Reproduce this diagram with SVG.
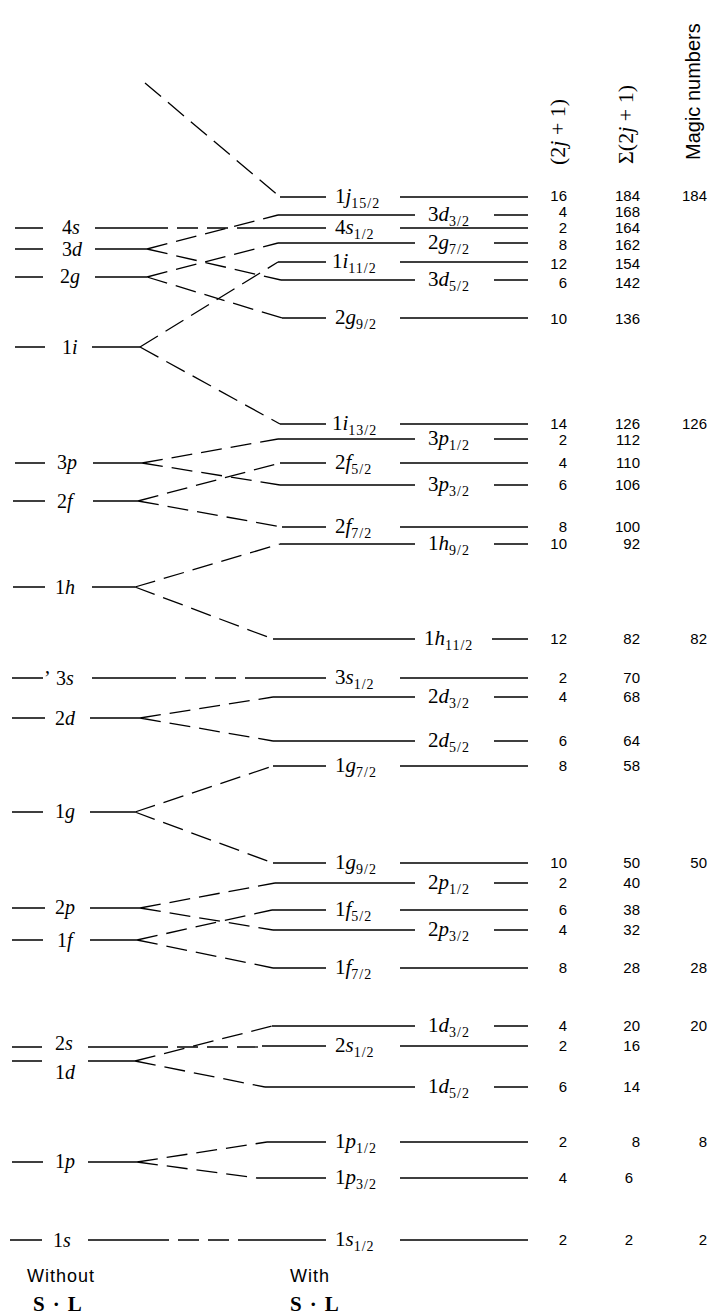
<svg xmlns="http://www.w3.org/2000/svg" width="710" height="1315" viewBox="0 0 710 1315">
<style>
.lv{stroke:#000;stroke-width:1.4;fill:none}
.cn{stroke:#000;stroke-width:1.3;fill:none;stroke-dasharray:21 9}
.lb{font-family:"Liberation Serif",serif;font-size:21px;fill:#000}
.ll{font-family:"Liberation Serif",serif;font-size:20px;fill:#000}
.it{font-style:italic}
.sb{font-size:14px;letter-spacing:1px}
.n{font-family:"Liberation Sans",sans-serif;font-size:15px;text-anchor:end;fill:#000}
.hd{font-family:"Liberation Serif",serif;font-size:22px;fill:#000}
.hs{font-family:"Liberation Sans",sans-serif;font-size:20px;fill:#000}
.ft{font-family:"Liberation Sans",sans-serif;font-size:18px;letter-spacing:1px;fill:#000}
.sl{font-family:"Liberation Serif",serif;font-size:21px;font-weight:bold;letter-spacing:8px;fill:#000}
</style>
<g id="headers">
<text class="hd" transform="translate(565,165) rotate(-90)">(2<tspan class="it">j</tspan> + 1)</text>
<text class="hd" transform="translate(633,164) rotate(-90)">Σ(2<tspan class="it">j</tspan> + 1)</text>
<text class="hs" transform="translate(700,160) rotate(-90)">Magic numbers</text>
</g>
<g id="connectors">
<path class="cn" d="M145 83L280 197"/>
<path class="cn" d="M147 228H255"/>
<path class="cn" d="M147 249L278 215M147 249L281 280"/>
<path class="cn" d="M147 277L278 243M147 277L282 318"/>
<path class="cn" d="M140 347L278 262M140 347L280 424"/>
<path class="cn" d="M142 463L278 439M142 463L280 485"/>
<path class="cn" d="M138 501L280 463M138 501L282 527"/>
<path class="cn" d="M135 587L280 544M135 587L273 639"/>
<path class="cn" d="M155 678H250"/>
<path class="cn" d="M140 718L273 697M140 718L273 741"/>
<path class="cn" d="M135 812L273 766M135 812L273 863"/>
<path class="cn" d="M140 908L275 883M140 908L273 930"/>
<path class="cn" d="M137 940L272 910M137 940L273 968"/>
<path class="cn" d="M147 1047H262"/>
<path class="cn" d="M135 1061L272 1026M135 1061L265 1087"/>
<path class="cn" d="M137 1162L267 1142M137 1162L257 1178"/>
<path class="cn" d="M148 1240H250"/>
</g>
<g id="left-levels">
<g id="l4s"><path class="lv" d="M15 228H43M95 228H147"/><text class="ll" x="62" y="234">4<tspan class="it">s</tspan></text></g>
<g id="l3d"><path class="lv" d="M15 249H43M95 249H147"/><text class="ll" x="62" y="256">3<tspan class="it">d</tspan></text></g>
<g id="l2g"><path class="lv" d="M15 277H43M95 277H147"/><text class="ll" x="60" y="283">2<tspan class="it">g</tspan></text></g>
<g id="l1i"><path class="lv" d="M15 347H45M92 347H140"/><text class="ll" x="62" y="354">1<tspan class="it">i</tspan></text></g>
<g id="l3p"><path class="lv" d="M15 463H45M93 463H142"/><text class="ll" x="57" y="469">3<tspan class="it">p</tspan></text></g>
<g id="l2f"><path class="lv" d="M13 501H45M93 501H138"/><text class="ll" x="57" y="508">2<tspan class="it">f</tspan></text></g>
<g id="l1h"><path class="lv" d="M13 587H45M92 587H135"/><text class="ll" x="55" y="594">1<tspan class="it">h</tspan></text></g>
<g id="l3s"><path class="lv" d="M12 678H43M92 678H155"/><text class="ll" x="44" y="685">’<tspan x="56">3</tspan><tspan class="it">s</tspan></text></g>
<g id="l2d"><path class="lv" d="M12 718H45M90 718H140"/><text class="ll" x="55" y="725">2<tspan class="it">d</tspan></text></g>
<g id="l1g"><path class="lv" d="M12 812H43M90 812H135"/><text class="ll" x="55" y="818">1<tspan class="it">g</tspan></text></g>
<g id="l2p"><path class="lv" d="M12 908H45M90 908H140"/><text class="ll" x="55" y="914">2<tspan class="it">p</tspan></text></g>
<g id="l1f"><path class="lv" d="M12 940H43M90 940H137"/><text class="ll" x="57" y="947">1<tspan class="it">f</tspan></text></g>
<g id="l2s"><path class="lv" d="M12 1047H42M88 1047H147"/><text class="ll" x="55" y="1050">2<tspan class="it">s</tspan></text></g>
<g id="l1d"><path class="lv" d="M12 1061H42M88 1061H135"/><text class="ll" x="55" y="1079">1<tspan class="it">d</tspan></text></g>
<g id="l1p"><path class="lv" d="M12 1162H43M88 1162H137"/><text class="ll" x="55" y="1168">1<tspan class="it">p</tspan></text></g>
<g id="l1s"><path class="lv" d="M10 1240H42M88 1240H148"/><text class="ll" x="53" y="1247">1<tspan class="it">s</tspan></text></g>
</g>
<g id="right-levels">
<g id="r1j15"><path class="lv" d="M280 197H326M400 197H528"/><text class="lb" x="335" y="203">1<tspan class="it">j</tspan><tspan class="sb" dy="5">15/2</tspan></text><text class="n" x="567" y="201">16</text><text class="n" x="640" y="201">184</text><text class="n" x="707" y="201">184</text></g>
<g id="r3d3"><path class="lv" d="M278 215H415M494 215H528"/><text class="lb" x="428" y="221">3<tspan class="it">d</tspan><tspan class="sb" dy="5">3/2</tspan></text><text class="n" x="567" y="217">4</text><text class="n" x="640" y="217">168</text></g>
<g id="r4s1"><path class="lv" d="M255 228H326M400 228H528"/><text class="lb" x="335" y="234">4<tspan class="it">s</tspan><tspan class="sb" dy="5">1/2</tspan></text><text class="n" x="567" y="233">2</text><text class="n" x="640" y="233">164</text></g>
<g id="r2g7"><path class="lv" d="M278 243H415M494 243H528"/><text class="lb" x="428" y="249">2<tspan class="it">g</tspan><tspan class="sb" dy="5">7/2</tspan></text><text class="n" x="567" y="250">8</text><text class="n" x="640" y="250">162</text></g>
<g id="r1i11"><path class="lv" d="M278 262H326M400 262H528"/><text class="lb" x="332" y="268">1<tspan class="it">i</tspan><tspan class="sb" dy="5">11/2</tspan></text><text class="n" x="567" y="269">12</text><text class="n" x="640" y="269">154</text></g>
<g id="r3d5"><path class="lv" d="M281 280H415M494 280H528"/><text class="lb" x="428" y="286">3<tspan class="it">d</tspan><tspan class="sb" dy="5">5/2</tspan></text><text class="n" x="567" y="288">6</text><text class="n" x="640" y="288">142</text></g>
<g id="r2g9"><path class="lv" d="M282 318H326M400 318H528"/><text class="lb" x="335" y="324">2<tspan class="it">g</tspan><tspan class="sb" dy="5">9/2</tspan></text><text class="n" x="567" y="324">10</text><text class="n" x="640" y="324">136</text></g>
<g id="r1i13"><path class="lv" d="M280 424H326M400 424H528"/><text class="lb" x="332" y="430">1<tspan class="it">i</tspan><tspan class="sb" dy="5">13/2</tspan></text><text class="n" x="567" y="429">14</text><text class="n" x="640" y="429">126</text><text class="n" x="707" y="429">126</text></g>
<g id="r3p1"><path class="lv" d="M278 439H415M494 439H528"/><text class="lb" x="428" y="445">3<tspan class="it">p</tspan><tspan class="sb" dy="5">1/2</tspan></text><text class="n" x="567" y="445">2</text><text class="n" x="640" y="445">112</text></g>
<g id="r2f5"><path class="lv" d="M280 463H326M400 463H528"/><text class="lb" x="335" y="469">2<tspan class="it">f</tspan><tspan class="sb" dy="5">5/2</tspan></text><text class="n" x="567" y="468">4</text><text class="n" x="640" y="468">110</text></g>
<g id="r3p3"><path class="lv" d="M280 485H415M494 485H528"/><text class="lb" x="428" y="491">3<tspan class="it">p</tspan><tspan class="sb" dy="5">3/2</tspan></text><text class="n" x="567" y="490">6</text><text class="n" x="640" y="490">106</text></g>
<g id="r2f7"><path class="lv" d="M282 527H326M400 527H528"/><text class="lb" x="335" y="533">2<tspan class="it">f</tspan><tspan class="sb" dy="5">7/2</tspan></text><text class="n" x="567" y="532">8</text><text class="n" x="640" y="532">100</text></g>
<g id="r1h9"><path class="lv" d="M280 544H415M494 544H528"/><text class="lb" x="428" y="550">1<tspan class="it">h</tspan><tspan class="sb" dy="5">9/2</tspan></text><text class="n" x="567" y="549">10</text><text class="n" x="640" y="549">92</text></g>
<g id="r1h11"><path class="lv" d="M273 639H415M492 639H528"/><text class="lb" x="424" y="645">1<tspan class="it">h</tspan><tspan class="sb" dy="5">11/2</tspan></text><text class="n" x="567" y="644">12</text><text class="n" x="640" y="644">82</text><text class="n" x="707" y="644">82</text></g>
<g id="r3s1"><path class="lv" d="M250 678H326M400 678H528"/><text class="lb" x="335" y="684">3<tspan class="it">s</tspan><tspan class="sb" dy="5">1/2</tspan></text><text class="n" x="567" y="683">2</text><text class="n" x="640" y="683">70</text></g>
<g id="r2d3"><path class="lv" d="M273 697H415M494 697H528"/><text class="lb" x="428" y="703">2<tspan class="it">d</tspan><tspan class="sb" dy="5">3/2</tspan></text><text class="n" x="567" y="702">4</text><text class="n" x="640" y="702">68</text></g>
<g id="r2d5"><path class="lv" d="M273 741H415M494 741H528"/><text class="lb" x="428" y="747">2<tspan class="it">d</tspan><tspan class="sb" dy="5">5/2</tspan></text><text class="n" x="567" y="746">6</text><text class="n" x="640" y="746">64</text></g>
<g id="r1g7"><path class="lv" d="M273 766H326M400 766H528"/><text class="lb" x="335" y="772">1<tspan class="it">g</tspan><tspan class="sb" dy="5">7/2</tspan></text><text class="n" x="567" y="771">8</text><text class="n" x="640" y="771">58</text></g>
<g id="r1g9"><path class="lv" d="M273 863H326M400 863H528"/><text class="lb" x="335" y="869">1<tspan class="it">g</tspan><tspan class="sb" dy="5">9/2</tspan></text><text class="n" x="567" y="868">10</text><text class="n" x="640" y="868">50</text><text class="n" x="707" y="868">50</text></g>
<g id="r2p1"><path class="lv" d="M275 883H415M494 883H528"/><text class="lb" x="428" y="889">2<tspan class="it">p</tspan><tspan class="sb" dy="5">1/2</tspan></text><text class="n" x="567" y="888">2</text><text class="n" x="640" y="888">40</text></g>
<g id="r1f5"><path class="lv" d="M272 910H326M400 910H528"/><text class="lb" x="335" y="916">1<tspan class="it">f</tspan><tspan class="sb" dy="5">5/2</tspan></text><text class="n" x="567" y="915">6</text><text class="n" x="640" y="915">38</text></g>
<g id="r2p3"><path class="lv" d="M273 930H415M494 930H528"/><text class="lb" x="428" y="936">2<tspan class="it">p</tspan><tspan class="sb" dy="5">3/2</tspan></text><text class="n" x="567" y="935">4</text><text class="n" x="640" y="935">32</text></g>
<g id="r1f7"><path class="lv" d="M273 968H326M400 968H528"/><text class="lb" x="335" y="974">1<tspan class="it">f</tspan><tspan class="sb" dy="5">7/2</tspan></text><text class="n" x="567" y="973">8</text><text class="n" x="640" y="973">28</text><text class="n" x="707" y="973">28</text></g>
<g id="r1d3"><path class="lv" d="M272 1026H415M494 1026H528"/><text class="lb" x="428" y="1032">1<tspan class="it">d</tspan><tspan class="sb" dy="5">3/2</tspan></text><text class="n" x="567" y="1031">4</text><text class="n" x="640" y="1031">20</text><text class="n" x="707" y="1031">20</text></g>
<g id="r2s1"><path class="lv" d="M262 1046H326M400 1046H528"/><text class="lb" x="335" y="1052">2<tspan class="it">s</tspan><tspan class="sb" dy="5">1/2</tspan></text><text class="n" x="567" y="1051">2</text><text class="n" x="640" y="1051">16</text></g>
<g id="r1d5"><path class="lv" d="M265 1087H415M494 1087H528"/><text class="lb" x="428" y="1093">1<tspan class="it">d</tspan><tspan class="sb" dy="5">5/2</tspan></text><text class="n" x="567" y="1092">6</text><text class="n" x="640" y="1092">14</text></g>
<g id="r1p1"><path class="lv" d="M267 1142H326M400 1142H528"/><text class="lb" x="335" y="1148">1<tspan class="it">p</tspan><tspan class="sb" dy="5">1/2</tspan></text><text class="n" x="567" y="1147">2</text><text class="n" x="640" y="1147">8</text><text class="n" x="707" y="1147">8</text></g>
<g id="r1p3"><path class="lv" d="M257 1178H326M400 1178H528"/><text class="lb" x="335" y="1184">1<tspan class="it">p</tspan><tspan class="sb" dy="5">3/2</tspan></text><text class="n" x="567" y="1183">4</text><text class="n" x="633" y="1183">6</text></g>
<g id="r1s1"><path class="lv" d="M250 1240H326M400 1240H528"/><text class="lb" x="335" y="1246">1<tspan class="it">s</tspan><tspan class="sb" dy="5">1/2</tspan></text><text class="n" x="567" y="1245">2</text><text class="n" x="633" y="1245">2</text><text class="n" x="707" y="1245">2</text></g>
</g>
<g id="footer">
<text class="ft" x="27" y="1282">Without</text>
<text class="sl" x="33" y="1311">S·L</text>
<text class="ft" x="290" y="1282">With</text>
<text class="sl" x="290" y="1311">S·L</text>
</g>
</svg>
